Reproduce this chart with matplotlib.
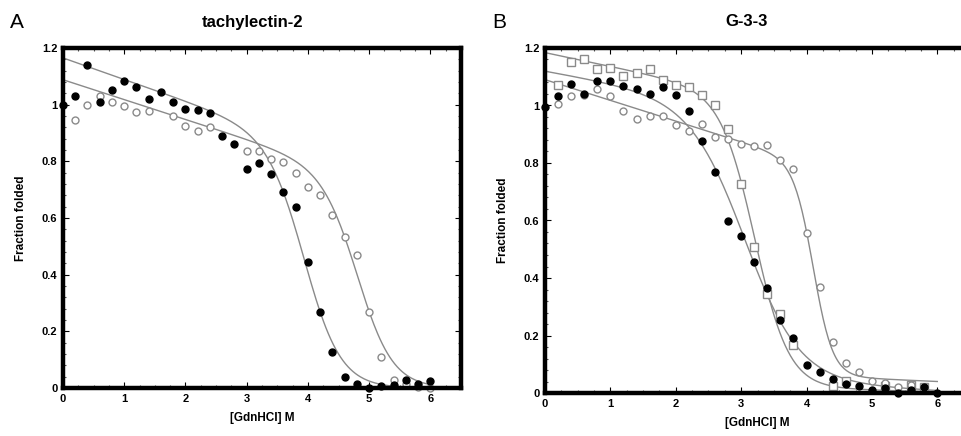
import matplotlib.pyplot as plt
import numpy as np
from matplotlib.ticker import MultipleLocator

plt.rcParams['font.family'] = ['Liberation Sans', 'DejaVu Sans']

# ---- panel A: tachylectin-2 ----
a_fill_x = [0, 0.2, 0.4, 0.6, 0.8, 1.0, 1.2, 1.4, 1.6, 1.8, 2.0, 2.2, 2.4, 2.6, 2.8,
            3.0, 3.2, 3.4, 3.6, 3.8, 4.0, 4.2, 4.4, 4.6, 4.8, 5.0, 5.2, 5.4, 5.6, 5.8, 6.0]
a_fill_y = [1.0, 1.03, 1.14, 1.01, 1.05, 1.083, 1.064, 1.02, 1.045, 1.01, 0.984, 0.982, 0.97,
            0.89, 0.862, 0.773, 0.795, 0.756, 0.693, 0.64, 0.444, 0.269, 0.127, 0.039, 0.015,
            0.0, 0.007, 0.01, 0.027, 0.015, 0.024]
a_open_x = [0.2, 0.4, 0.6, 0.8, 1.0, 1.2, 1.4, 1.8, 2.0, 2.2, 2.4, 3.0, 3.2, 3.4, 3.6, 3.8,
            4.0, 4.2, 4.4, 4.6, 4.8, 5.0, 5.2, 5.4, 5.6, 5.8, 6.0]
a_open_y = [0.947, 1.0, 1.03, 1.01, 0.996, 0.973, 0.976, 0.961, 0.925, 0.908, 0.921, 0.835,
            0.835, 0.809, 0.797, 0.758, 0.711, 0.681, 0.611, 0.534, 0.469, 0.269, 0.11, 0.03,
            0.015, 0.005, 0.0]

# ---- panel B: G-3-3 ----
b_fill_x = [0, 0.2, 0.4, 0.6, 0.8, 1.0, 1.2, 1.4, 1.6, 1.8, 2.0, 2.2, 2.4, 2.6, 2.8,
            3.0, 3.2, 3.4, 3.6, 3.8, 4.0, 4.2, 4.4, 4.6, 4.8, 5.0, 5.2, 5.4, 5.6, 5.8, 6.0]
b_fill_y = [0.995, 1.034, 1.074, 1.041, 1.085, 1.084, 1.069, 1.057, 1.041, 1.064, 1.035, 0.981,
            0.877, 0.77, 0.597, 0.545, 0.454, 0.365, 0.255, 0.191, 0.099, 0.072, 0.05, 0.03,
            0.024, 0.012, 0.019, 0.0, 0.009, 0.021, 0.0]
b_sq_x = [0.2, 0.4, 0.6, 0.8, 1.0, 1.2, 1.4, 1.6, 1.8, 2.0, 2.2, 2.4, 2.6, 2.8, 3.0, 3.2,
          3.4, 3.6, 3.8, 4.4, 4.6, 5.2, 5.6, 5.8]
b_sq_y = [1.07, 1.15, 1.163, 1.128, 1.132, 1.101, 1.113, 1.126, 1.09, 1.072, 1.064, 1.038,
          1.003, 0.919, 0.726, 0.507, 0.343, 0.276, 0.168, 0.023, 0.042, 0.023, 0.027, 0.02]
b_open_x = [0.2, 0.4, 0.6, 0.8, 1.0, 1.2, 1.4, 1.6, 1.8, 2.0, 2.2, 2.4, 2.6, 2.8, 3.0, 3.2,
            3.4, 3.6, 3.8, 4.0, 4.2, 4.4, 4.6, 4.8, 5.0, 5.2, 5.4, 5.6]
b_open_y = [1.006, 1.032, 1.035, 1.059, 1.032, 0.98, 0.954, 0.962, 0.962, 0.933, 0.911, 0.937,
            0.89, 0.885, 0.865, 0.858, 0.861, 0.812, 0.778, 0.558, 0.369, 0.177, 0.106, 0.073,
            0.042, 0.036, 0.021, 0.027]

# two-state fit parameters:
# (native intercept, native slope, unfolded intercept, unfolded slope, Cm, width)
a_fill_fit = (1.165, -0.076, 0.0, 0.0, 3.97, 0.30)
a_open_fit = (1.088, -0.070, 0.0, 0.0, 4.84, 0.29)
b_fill_fit = (1.12, -0.040, 0.08, -0.012, 3.08, 0.42)
b_sq_fit = (1.184, -0.048, 0.04, -0.006, 3.22, 0.26)
b_open_fit = (1.09, -0.072, 0.10, -0.010, 4.11, 0.15)


def two_state(x, p):
    an, bn, au, bu, cm, w = p
    k = np.exp((x - cm) / w)
    return ((an + bn * x) + (au + bu * x) * k) / (1 + k)


fig = plt.figure(figsize=(9.61, 4.36), dpi=100)
ax_a = fig.add_axes([63 / 961, 48 / 436, 398 / 961, 340 / 436])
ax_b = fig.add_axes([545 / 961, 43 / 436, 425 / 961, 345 / 436])

gray = '#8a8a8a'
xs = np.linspace(0, 6, 300)


def style(ax):
    ax.set_xlim(0, 6.5)
    ax.set_ylim(0, 1.2)
    ax.xaxis.set_major_locator(MultipleLocator(1))
    ax.xaxis.set_minor_locator(MultipleLocator(0.25))
    ax.yaxis.set_major_locator(MultipleLocator(0.2))
    ax.yaxis.set_minor_locator(MultipleLocator(0.04))
    ax.set_yticks([0, 0.2, 0.4, 0.6, 0.8, 1.0, 1.2])
    ax.set_yticklabels(['0', '0.2', '0.4', '0.6', '0.8', '1', '1.2'])
    ax.tick_params(which='both', direction='in', top=True, right=True,
                   labelsize=8, width=0.8, pad=4)
    ax.tick_params(which='major', length=4)
    ax.tick_params(which='minor', length=2, color='#555555')
    for lab in ax.get_xticklabels() + ax.get_yticklabels():
        lab.set_fontweight('bold')
    for s in ax.spines.values():
        s.set_linewidth(3.2)
    ax.set_xlabel('[GdnHCl] M', fontsize=8.5, fontweight='bold', labelpad=6)
    ax.set_ylabel('Fraction folded', fontsize=8.5, fontweight='bold', labelpad=11)


# panel A
ax_a.plot(xs, two_state(xs, a_fill_fit), color=gray, lw=1)
ax_a.plot(xs, two_state(xs, a_open_fit), color=gray, lw=1)
ax_a.plot(a_open_x, a_open_y, 'o', ms=5, mfc='white', mec=gray, mew=1, clip_on=False)
ax_a.plot(a_fill_x, a_fill_y, 'o', ms=5, color='black', clip_on=False)
style(ax_a)

# panel B
ax_b.plot(xs, two_state(xs, b_fill_fit), color=gray, lw=1)
ax_b.plot(xs, two_state(xs, b_sq_fit), color=gray, lw=1)
ax_b.plot(xs, two_state(xs, b_open_fit), color=gray, lw=1)
ax_b.plot(b_sq_x, b_sq_y, 's', ms=5.5, mfc='white', mec=gray, mew=1, clip_on=False)
ax_b.plot(b_open_x, b_open_y, 'o', ms=5, mfc='white', mec=gray, mew=1, clip_on=False)
ax_b.plot(b_fill_x, b_fill_y, 'o', ms=5, color='black', clip_on=False)
style(ax_b)

fig.text(252 / 961, 1 - 22 / 436, 'tachylectin-2', ha='center', va='center',
         fontsize=12, fontweight='bold')
fig.text(747 / 961, 1 - 22 / 436, 'G-3-3', ha='center', va='center',
         fontsize=12, fontweight='bold')
fig.text(10 / 961, 1 - 22 / 436, 'A', ha='left', va='center', fontsize=15)
fig.text(492 / 961, 1 - 22 / 436, 'B', ha='left', va='center', fontsize=15)

fig.savefig('out.png', dpi=100)
